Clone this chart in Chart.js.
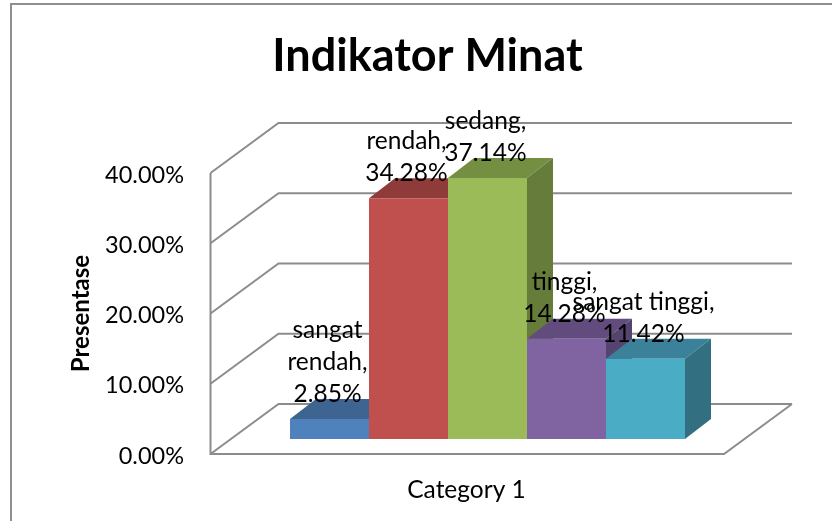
<!DOCTYPE html>
<html>
<head>
<meta charset="utf-8">
<style>html,body{margin:0;padding:0;background:#fff}canvas{display:block}</style>
<script src="https://cdn.jsdelivr.net/npm/chart.js@4"></script>
</head>
<body>
<canvas id="c" width="832" height="521"></canvas>
<script>
const chartTitle = "Indikator Minat";
const yAxisTitle = "Presentase";
const categories = ["Category 1"];
const seriesNames = ["sangat rendah", "rendah", "sedang", "tinggi", "sangat tinggi"];
const seriesValues = [2.85, 34.28, 37.14, 14.28, 11.42];
const labelLines = [["sangat", "rendah,"], ["rendah,"], ["sedang,"], ["tinggi,"], ["sangat tinggi,"]];
const frontColors = ["#4f81bd", "#c0504d", "#9bbb59", "#8064a2", "#4bacc6"];
const topColors = ["#3e6492", "#8f3b39", "#758f42", "#624c7d", "#3a8199"];
const sideColors = ["#375a83", "#7f3533", "#667c3b", "#564470", "#326f80"];

const FONT = "Lato, Carlito, sans-serif";
const GRID = "#8c8c8c";
const WALL_DX = 68, WALL_DY = -50, WALL_END = 792;
const BAR_DX = 21, BAR_DY = -15, DEPTH_X = 26, DEPTH_Y = -20;

function barRects(chart) {
  return seriesValues.map((v, i) => {
    const el = chart.getDatasetMeta(i).data[0];
    return {
      l: el.x - el.width / 2 + BAR_DX,
      r: el.x + el.width / 2 + BAR_DX,
      t: el.y + BAR_DY,
      b: el.base + BAR_DY
    };
  });
}
function poly(ctx, pts, fill) {
  ctx.beginPath();
  pts.forEach((p, i) => i ? ctx.lineTo(p[0], p[1]) : ctx.moveTo(p[0], p[1]));
  ctx.closePath();
  ctx.fillStyle = fill;
  ctx.fill();
}
const bars3d = {
  id: "bars3d",
  beforeDraw(chart) {
    const ctx = chart.ctx;
    ctx.save();
    ctx.strokeStyle = "#8f8f8f";
    ctx.lineWidth = 2;
    ctx.beginPath();
    ctx.moveTo(11, 521); ctx.lineTo(11, 4); ctx.lineTo(832, 4);
    ctx.stroke();
    ctx.restore();
  },
  beforeDatasetsDraw(chart) {
    const ctx = chart.ctx, y = chart.scales.y, x = chart.scales.x;
    const x0 = x.left - 0.5;
    ctx.save();
    ctx.strokeStyle = GRID;
    ctx.lineWidth = 2;
    y.ticks.forEach(t => {
      const py = y.getPixelForValue(t.value);
      ctx.beginPath();
      ctx.moveTo(x0, py);
      ctx.lineTo(x0 + WALL_DX, py + WALL_DY);
      ctx.lineTo(WALL_END, py + WALL_DY);
      ctx.stroke();
    });
    const p0 = y.getPixelForValue(0), p1 = y.getPixelForValue(y.max);
    ctx.beginPath();
    ctx.moveTo(x0, p1); ctx.lineTo(x0, p0);
    ctx.lineTo(x.right + 2, p0);
    ctx.lineTo(WALL_END, p0 + WALL_DY);
    ctx.stroke();
    barRects(chart).forEach((r, i) => {
      poly(ctx, [[r.l, r.t], [r.l + DEPTH_X, r.t + DEPTH_Y], [r.r + DEPTH_X, r.t + DEPTH_Y], [r.r, r.t]], topColors[i]);
      poly(ctx, [[r.r, r.t], [r.r + DEPTH_X, r.t + DEPTH_Y], [r.r + DEPTH_X, r.b + DEPTH_Y], [r.r, r.b]], sideColors[i]);
    });
    ctx.translate(BAR_DX, BAR_DY);
  },
  afterDatasetsDraw(chart) {
    const ctx = chart.ctx;
    ctx.restore();
    ctx.save();
    ctx.font = "24.5px " + FONT;
    ctx.fillStyle = "#000";
    ctx.textAlign = "center";
    ctx.textBaseline = "middle";
    barRects(chart).forEach((r, i) => {
      const lines = labelLines[i].concat([seriesValues[i].toFixed(2) + "%"]);
      const cx = (r.l + r.r) / 2 - 2;
      const last = r.t + DEPTH_Y - 5;
      lines.forEach((s, k) => ctx.fillText(s, cx, last - (lines.length - 1 - k) * 32));
    });
    ctx.restore();
  }
};

new Chart(document.getElementById("c"), {
  type: "bar",
  data: {
    labels: categories,
    datasets: seriesNames.map((n, i) => ({
      label: n,
      data: [seriesValues[i]],
      backgroundColor: frontColors[i],
      borderWidth: 0,
      categoryPercentage: 395 / 511,
      barPercentage: 1,
      yAxisID: "y"
    }))
  },
  plugins: [bars3d],
  options: {
    responsive: false,
    animation: false,
    layout: { padding: { left: 23, right: 0, top: 0, bottom: 0 } },
    plugins: {
      legend: { display: false },
      tooltip: { enabled: false },
      title: {
        display: true,
        text: chartTitle,
        color: "#000",
        font: { family: FONT, size: 45, weight: "bold", lineHeight: 1.2 },
        padding: { top: 29, bottom: 90 }
      }
    },
    scales: {
      x: {
        grid: { display: false },
        border: { display: false },
        ticks: { color: "#000", font: { family: FONT, size: 24.5 }, padding: 13 },
        afterFit(s) { s.height = 67; }
      },
      y: {
        min: 0,
        max: 40,
        grid: { display: false, drawTicks: false },
        border: { display: false },
        ticks: {
          stepSize: 10,
          color: "#000",
          padding: 27,
          labelOffset: 2,
          font: { family: FONT, size: 23.5 },
          callback: v => v.toFixed(2) + "%"
        },
        title: {
          display: true,
          text: yAxisTitle,
          color: "#000",
          font: { family: FONT, size: 24, weight: "bold", lineHeight: 1.2 },
          padding: { top: 44, bottom: 0 }
        },
        afterFit(s) { s.width = 188; }
      },
      gutter: {
        position: "right",
        min: 0,
        max: 1,
        grid: { display: false, drawTicks: false },
        border: { display: false },
        ticks: { display: false },
        afterFit(s) { s.width = 110; }
      }
    }
  }
});
</script>
</body>
</html>
